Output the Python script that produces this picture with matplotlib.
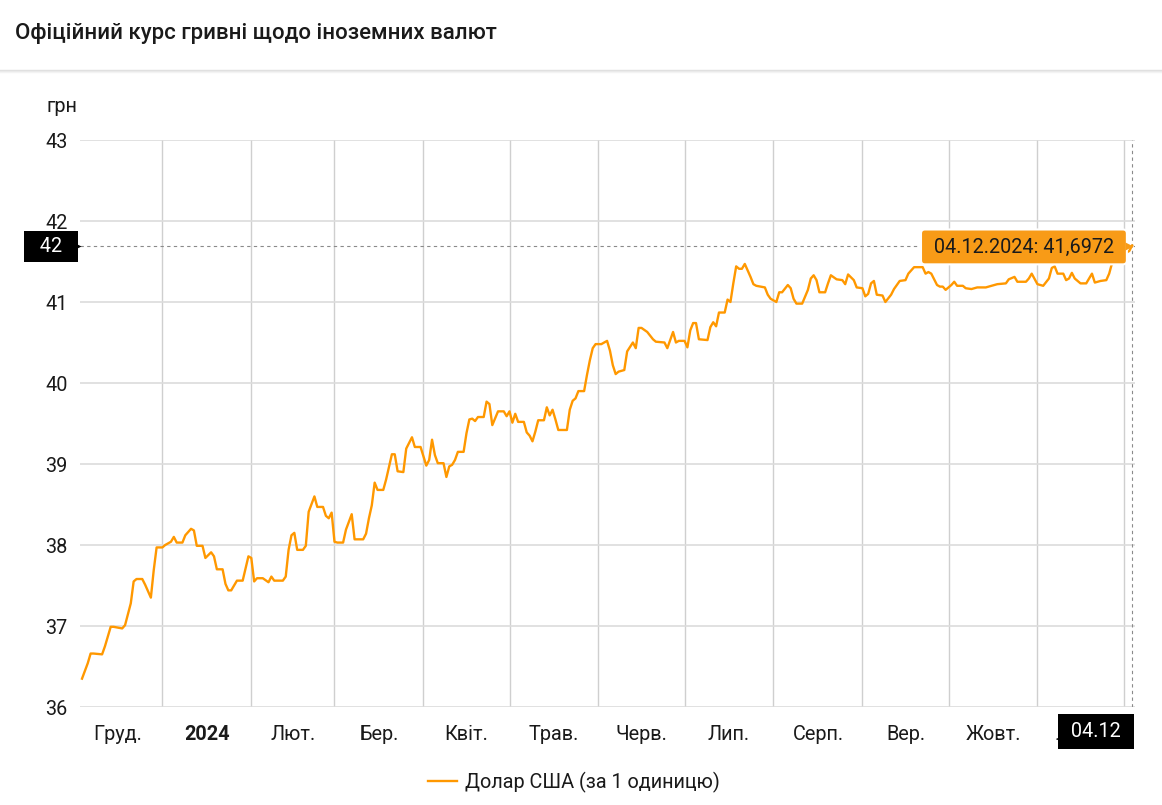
"""Official UAH/USD exchange rate over one year (NBU), line chart with cursor tags."""

import matplotlib
matplotlib.use("Agg")
import matplotlib.pyplot as plt
import matplotlib.dates as mdates
import matplotlib.transforms as mtransforms
from matplotlib.lines import Line2D
import pandas as pd

plt.rcParams["font.family"] = ["Roboto", "DejaVu Sans"]

# ---- data (days since 2023-12-04, UAH per 1 USD) ----
START = "2023-12-04"
day_offsets = [
    0, 2, 3, 4, 7, 8, 10, 11, 14, 15, 17, 18, 19, 21, 22, 24, 25, 26, 28, 29,
    31, 32, 33, 35, 36, 38, 39, 40, 42, 43, 45, 46, 47, 49, 50, 51, 52, 54, 56, 57,
    58, 59, 60, 61, 63, 65, 66, 67, 70, 71,
    72, 73, 74, 75, 77, 78, 79, 81, 82, 84, 85, 86, 87, 88, 89, 91, 92, 94, 95, 98,
    99, 100, 101, 102, 103, 105, 106, 108, 109, 110, 112, 113, 115, 116, 118, 120, 121, 122, 123, 124,
    126, 127, 128, 129, 130, 131, 133, 134, 135, 136, 137, 138, 140, 141, 142, 143,
    145, 147, 148, 149, 150, 151, 152, 154, 155, 156, 157, 158, 159, 161, 162, 163, 164, 165, 166, 169,
    170, 171, 172, 173, 175, 176, 177, 178, 179, 181, 183, 184, 185, 186, 187, 189, 190, 192, 193, 194,
    195, 197, 199, 200, 203, 204, 206, 207, 208, 210, 211, 212, 213, 214, 215,
    218, 219, 220, 221, 222, 224, 225, 226, 227, 228, 229, 230, 231, 233, 234, 235, 238, 239, 240, 242,
    243, 244, 246, 247, 248, 249, 251, 253, 254, 255, 256, 257, 259, 260, 261, 263, 265, 266, 267, 269,
    270, 272, 273, 274, 275, 276, 277, 279, 280, 282, 283, 285, 287,
    288, 290, 293, 294, 295, 296, 298, 299, 300, 301, 303, 304, 305, 307, 308, 310, 312, 315, 317, 319,
    322, 323, 325, 326, 329, 330, 331, 333, 335, 337, 338, 339, 340, 342, 343, 344, 345, 346, 348, 350,
    351, 352, 353, 355, 357, 358, 359, 360, 363, 365, 366,
]
usd_rate = [
    36.35, 36.54, 36.66, 36.66, 36.65, 36.75, 36.99, 36.99, 36.97, 37.01, 37.28, 37.55, 37.58, 37.58, 37.51, 37.35, 37.69, 37.97, 37.97, 38.00,
    38.04, 38.10, 38.03, 38.03, 38.12, 38.20, 38.18, 37.99, 37.99, 37.84, 37.91, 37.86, 37.70, 37.70, 37.52, 37.44, 37.44, 37.56, 37.56, 37.71,
    37.86, 37.84, 37.55, 37.59, 37.59, 37.54, 37.61, 37.56, 37.56, 37.61,
    37.94, 38.12, 38.15, 37.94, 37.94, 37.99, 38.41, 38.60, 38.47, 38.47, 38.36, 38.33, 38.40, 38.04, 38.03, 38.03, 38.19, 38.38, 38.07, 38.07,
    38.14, 38.33, 38.49, 38.77, 38.68, 38.68, 38.81, 39.12, 39.12, 38.91, 38.90, 39.19, 39.33, 39.21, 39.21, 38.98, 39.05, 39.30, 39.11, 39.01,
    39.01, 38.84, 38.97, 38.99, 39.05, 39.15, 39.15, 39.38, 39.55, 39.56, 39.53, 39.58, 39.58, 39.77, 39.74, 39.48,
    39.65, 39.65, 39.59, 39.65, 39.51, 39.62, 39.52, 39.52, 39.39, 39.35, 39.28, 39.40, 39.54, 39.54, 39.70, 39.60, 39.67, 39.55, 39.42, 39.42,
    39.67, 39.78, 39.81, 39.90, 39.90, 40.10, 40.28, 40.43, 40.48, 40.48, 40.52, 40.40, 40.22, 40.11, 40.14, 40.16, 40.39, 40.50, 40.43, 40.68,
    40.68, 40.63, 40.54, 40.51, 40.50, 40.43, 40.63, 40.50, 40.52, 40.52, 40.44, 40.65, 40.74, 40.74, 40.54,
    40.53, 40.69, 40.75, 40.70, 40.87, 40.87, 41.03, 41.00, 41.23, 41.44, 41.41, 41.41, 41.47, 41.31, 41.22, 41.20, 41.18, 41.09, 41.04, 41.00,
    41.12, 41.12, 41.21, 41.17, 41.04, 40.98, 40.98, 41.15, 41.29, 41.33, 41.27, 41.12, 41.12, 41.23, 41.33, 41.28, 41.27, 41.22, 41.34, 41.27,
    41.18, 41.17, 41.07, 41.10, 41.23, 41.26, 41.09, 41.08, 41.00, 41.09, 41.16, 41.26, 41.27,
    41.35, 41.43, 41.43, 41.35, 41.37, 41.35, 41.21, 41.19, 41.19, 41.15, 41.21, 41.25, 41.20, 41.20, 41.17, 41.16, 41.18, 41.18, 41.20, 41.22,
    41.23, 41.28, 41.31, 41.25, 41.25, 41.29, 41.35, 41.22, 41.20, 41.29, 41.42, 41.44, 41.35, 41.35, 41.27, 41.29, 41.36, 41.29, 41.23, 41.23,
    41.29, 41.35, 41.24, 41.26, 41.27, 41.35, 41.48, 41.58, 41.59, 41.63, 41.6972,
]

month_labels = ["Груд.", "2024", "Лют.", "Бер.", "Квіт.", "Трав.", "Черв.",
                "Лип.", "Серп.", "Вер.", "Жовт.", "Лист."]
y_ticks = [36, 37, 38, 39, 40, 41, 42, 43]

title = "Офіційний курс гривні щодо іноземних валют"
series_name = "Долар США (за 1 одиницю)"
cursor_text = "04.12.2024: 41,6972"
cursor_date_text = "04.12"
cursor_value_text = "42"

LINE = "#ff9800"
TIP = "#f89b17"
TXT = "#1a1a1a"
FS = 14.3

W, H = 1162, 805
fig = plt.figure(figsize=(W / 100, H / 100), dpi=100)
ax = fig.add_axes([80 / W, 1 - 707 / H, (1135 - 80) / W, 567 / H])

start = pd.Timestamp(START)
dates = mdates.date2num(start + pd.to_timedelta(day_offsets, unit="D"))
ax.plot(dates, usd_rate, color=LINE, lw=1.7, solid_joinstyle="round", zorder=3)
ax.xaxis_date()

# month-start grid lines, labels centred in each month
month_starts = mdates.date2num(pd.date_range("2023-12-01", "2024-12-01", freq="MS"))
month_mids = (month_starts[:-1] + month_starts[1:]) / 2
ax.set_xticks(month_starts)
ax.set_xticklabels([])
ax.set_xticks(month_mids, minor=True)
ax.set_xticklabels(month_labels, minor=True)
ax.set_yticks(y_ticks)
ax.set_yticklabels([str(v) for v in y_ticks])

ax.set_ylim(36, 43)
ax.set_xlim(mdates.date2num(start) - 0.7, mdates.date2num(start) + 367)

ax.tick_params(axis="both", which="both", length=0, labelsize=FS, labelcolor=TXT)
ax.tick_params(axis="x", which="minor", pad=13)
ax.tick_params(axis="y", pad=9)
for lbl in ax.get_xticklabels(minor=True):
    if lbl.get_text() == "2024":
        lbl.set_fontweight("bold")

ax.grid(axis="y", color="#dcdcdc", lw=1.2)
ax.grid(axis="x", which="major", color="#cfcfcf", lw=1.0)
for s in ax.spines.values():
    s.set_visible(False)

# ---- cursor on the last point ----
last_date, last_val = dates[-1], usd_rate[-1]
ax.axhline(last_val, color="#8a8a8a", lw=0.8, ls=(0, (3, 3)), zorder=2)
ax.axvline(last_date, color="#8a8a8a", lw=0.8, ls=(0, (3, 3)), zorder=2)

ax.annotate(" " + cursor_text + " ", xy=(last_date, last_val), xytext=(-9.5, -1),
            textcoords="offset points", ha="right", va="center",
            fontsize=FS, color=TXT, zorder=10,
            bbox=dict(boxstyle="round,pad=0.4,rounding_size=0.2", fc=TIP, ec="white", lw=1.5))
tip_nub = mtransforms.offset_copy(ax.transData, fig=fig, x=-2.5, y=0, units="points")
ax.plot([last_date], [last_val], marker=">", ms=6, color=TIP, mec="none",
        transform=tip_nub, zorder=11, clip_on=False)

ax.annotate("  " + cursor_value_text + "  ", xy=(0, last_val), xycoords=ax.get_yaxis_transform(),
            xytext=(-21, -1), textcoords="offset points", ha="center", va="center",
            fontsize=FS, color="white", zorder=10, annotation_clip=False,
            bbox=dict(boxstyle="square,pad=0.3", fc="black", ec="none"))
ytag_nub = mtransforms.offset_copy(ax.get_yaxis_transform(), fig=fig, x=-2, y=0, units="points")
ax.plot([0], [last_val], marker=">", ms=6, color="black", mec="none",
        transform=ytag_nub, zorder=11, clip_on=False)

ax.annotate(" " + cursor_date_text + " ", xy=(last_date, 0), xycoords=ax.get_xaxis_transform(),
            xytext=(-26, -17.5), textcoords="offset points", ha="center", va="center",
            fontsize=FS, color="white", zorder=10, annotation_clip=False,
            bbox=dict(boxstyle="square,pad=0.4", fc="black", ec="none"))

# ---- header, unit label, legend ----
fig.text(15 / W, 1 - 33 / H, title, fontsize=16, fontweight="medium", color=TXT, va="center")
for dy, c in ((70, "#dedede"), (71, "#e9e9e9"), (72, "#f3f3f3")):
    fig.add_artist(Line2D([0, 1], [1 - dy / H, 1 - dy / H], color=c, lw=1.0,
                          transform=fig.transFigure))
fig.text(47 / W, 1 - 107 / H, "грн", fontsize=FS, color=TXT, va="center")

fig.legend(handles=[Line2D([], [], color=LINE, lw=1.7)], labels=[series_name],
           loc="center", bbox_to_anchor=(574 / W, 1 - 782 / H), frameon=False,
           fontsize=FS, handlelength=1.45, handletextpad=0.4, labelcolor=TXT)

fig.savefig("out.png", dpi=100, facecolor="white")
